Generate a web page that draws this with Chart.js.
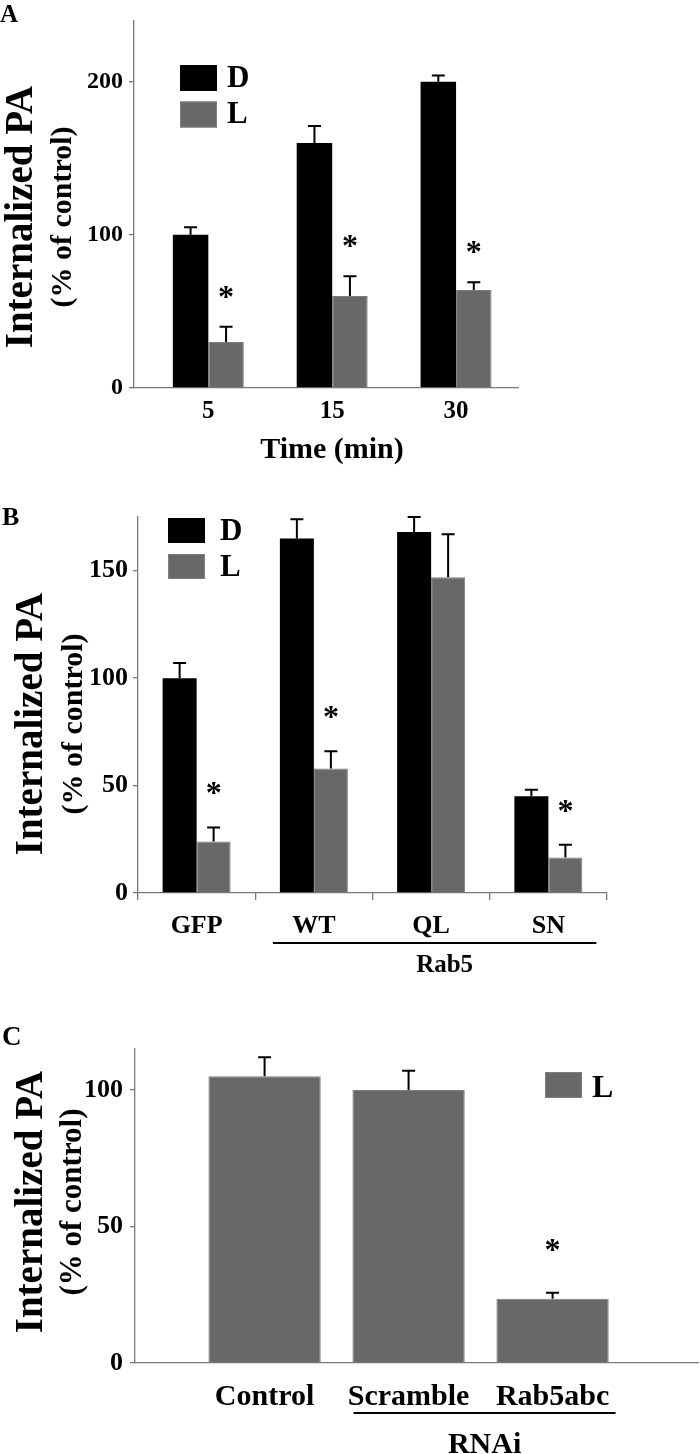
<!DOCTYPE html>
<html>
<head>
<meta charset="utf-8">
<script src="https://cdn.jsdelivr.net/npm/chart.js@4.4.1/dist/chart.umd.min.js"></script>
<style>
  html, body { margin: 0; padding: 0; background: #fff; }
  #wrap { position: relative; width: 700px; height: 1454px; overflow: hidden; }
  canvas { position: absolute; left: 0; }
</style>
</head>
<body>
<div id="wrap">
  <canvas id="chartA" width="700" height="470" style="top:0"></canvas>
  <canvas id="chartB" width="700" height="520" style="top:470px"></canvas>
  <canvas id="chartC" width="700" height="494" style="top:960px"></canvas>
</div>
<script>
// A: time course
var timeLabels = ['5', '15', '30'];
var timeD = [100, 160, 200];
var timeDErr = [5, 11, 4];
var timeL = [30, 60, 64];
var timeLErr = [10, 13, 5];
var timeLStars = [true, true, true];
var timeTicks = [0, 100, 200];

// B: Rab5 mutants
var rabLabels = ['GFP', 'WT', 'QL', 'SN'];
var rabD = [100, 165, 168, 45];
var rabDErr = [7, 9, 7, 3];
var rabL = [24, 58, 147, 16.5];
var rabLErr = [6.5, 8, 20, 6];
var rabLStars = [true, true, false, true];
var rabTicks = [0, 50, 100, 150];

// C: RNAi
var rnaiLabels = ['Control', 'Scramble', 'Rab5abc'];
var rnaiL = [105, 100, 23.5];
var rnaiLErr = [7, 7, 2.2];
var rnaiStars = [false, false, true];
var rnaiTicks = [0, 50, 100];

var FONT = "'Liberation Serif', 'Times New Roman', serif";
var AXIS = '#7a7a7a';
var BLACK = '#000000';
var GRAY = '#686868';

Chart.defaults.animation = false;
Chart.defaults.font.family = FONT;
Chart.defaults.color = '#000';

function pts(values) {
  return values.map(function (v, i) { return { x: i, y: v }; });
}

function bold(size) {
  return 'bold ' + size + 'px ' + FONT;
}

// error bars, stars, legend and the extra labels
var annotate = {
  id: 'annotate',
  afterDatasetsDraw: function (chart, args, opts) {
    var ctx = chart.ctx;
    var ys = chart.scales.y;
    ctx.save();
    chart.data.datasets.forEach(function (ds, i) {
      var meta = chart.getDatasetMeta(i);
      meta.data.forEach(function (bar, j) {
        var v = ds.data[j].y;
        var top = ys.getPixelForValue(v + ds.errors[j]);
        ctx.strokeStyle = '#000';
        ctx.lineWidth = 2;
        ctx.beginPath();
        ctx.moveTo(bar.x, bar.y);
        ctx.lineTo(bar.x, top);
        ctx.moveTo(bar.x - 6.5, top);
        ctx.lineTo(bar.x + 6.5, top);
        ctx.stroke();
        if (ds.stars && ds.stars[j]) {
          ctx.fillStyle = '#000';
          ctx.font = bold(32);
          ctx.textAlign = 'center';
          ctx.textBaseline = 'alphabetic';
          ctx.fillText('*', bar.x, top - opts.starGap + 14);
        }
      });
    });
    ctx.restore();
  },
  afterDraw: function (chart, args, opts) {
    var ctx = chart.ctx;
    ctx.save();
    ctx.fillStyle = '#000';
    ctx.textBaseline = 'alphabetic';

    // panel letter
    ctx.textAlign = 'left';
    ctx.font = bold(opts.letter.size);
    ctx.fillText(opts.letter.text, opts.letter.x, opts.letter.y);

    // y title, two lines
    var t = opts.yTitle;
    ctx.textAlign = 'center';
    ctx.save();
    ctx.translate(t.x1, t.cy);
    ctx.rotate(-Math.PI / 2);
    ctx.font = bold(39);
    ctx.fillText('Internalized PA', 0, 0);
    ctx.restore();
    ctx.save();
    ctx.translate(t.x2, t.cy);
    ctx.rotate(-Math.PI / 2);
    ctx.font = bold(t.size2);
    ctx.fillText('(% of control)', 0, 0);
    ctx.restore();

    // legend
    var lg = opts.legend;
    chart.data.datasets.forEach(function (ds, i) {
      var y = lg.y + i * lg.step;
      ctx.fillStyle = ds.backgroundColor;
      ctx.fillRect(lg.x, y, lg.w, lg.h);
      if (ds.borderWidth) {
        ctx.strokeStyle = ds.borderColor;
        ctx.lineWidth = 1;
        ctx.strokeRect(lg.x + 0.5, y + 0.5, lg.w - 1, lg.h - 1);
      }
      ctx.fillStyle = '#000';
      ctx.textAlign = 'left';
      ctx.font = bold(lg.size);
      ctx.fillText(ds.label, lg.textX, y + lg.textDy);
    });

    // x title
    if (opts.xTitle) {
      ctx.textAlign = 'center';
      ctx.font = bold(30);
      ctx.fillText(opts.xTitle.text, opts.xTitle.x, opts.xTitle.y);
    }

    // group bracket under categories
    if (opts.group) {
      var g = opts.group;
      var xs = chart.scales.x;
      var x1 = xs.getPixelForValue(g.from) + g.dx1;
      var x2 = xs.getPixelForValue(g.to) + g.dx2;
      ctx.strokeStyle = '#000';
      ctx.lineWidth = 2;
      ctx.beginPath();
      ctx.moveTo(x1, g.lineY);
      ctx.lineTo(x2, g.lineY);
      ctx.stroke();
      ctx.textAlign = 'center';
      ctx.font = bold(g.size);
      ctx.fillText(g.text, (x1 + x2) / 2 + g.dxText, g.textY);
    }
    ctx.restore();
  }
};

function yAxis(max, ticks, width, size, pad) {
  return {
    min: 0,
    max: max,
    afterFit: function (s) { s.width = width; },
    afterBuildTicks: function (s) { s.ticks = ticks.map(function (v) { return { value: v }; }); },
    border: { color: AXIS, width: 1.3 },
    grid: { drawOnChartArea: false, tickLength: 5, color: AXIS, lineWidth: 1.3 },
    ticks: { padding: pad, font: { size: size, weight: 'bold' } }
  };
}

function indexAxis(labels, min, max, height, size, pad) {
  return {
    type: 'linear',
    min: min,
    max: max,
    offset: false,
    afterFit: function (s) { s.height = height; },
    afterBuildTicks: function (s) { s.ticks = labels.map(function (l, i) { return { value: i }; }); },
    border: { color: AXIS, width: 1.3 },
    grid: { display: false, drawTicks: false },
    ticks: {
      padding: pad, autoSkip: false, maxRotation: 0,
      font: { size: size, weight: 'bold' },
      callback: function (v) { return labels[v]; }
    }
  };
}

// A
new Chart(document.getElementById('chartA'), {
  type: 'bar',
  data: {
    datasets: [
      { label: 'D', data: pts(timeD), errors: timeDErr, backgroundColor: BLACK, borderWidth: 0,
        categoryPercentage: 0.573, barPercentage: 1 },
      { label: 'L', data: pts(timeL), errors: timeLErr, stars: timeLStars, backgroundColor: GRAY,
        borderColor: '#7e7e7e', borderWidth: 1, categoryPercentage: 0.573, barPercentage: 1 }
    ]
  },
  options: {
    responsive: false,
    layout: { padding: { left: 0, top: 6, right: 700 - 518, bottom: 0 } },
    plugins: {
      legend: { display: false },
      tooltip: { enabled: false },
      annotate: {
        starGap: 34,
        letter: { text: 'A', x: 0, y: 22, size: 25 },
        yTitle: { x1: 32, x2: 71, cy: 217, size2: 30 },
        legend: { x: 180, y: 65, w: 37, h: 26, step: 36.5, textX: 227, textDy: 21.5, size: 31 },
        xTitle: { text: 'Time (min)', x: 332, y: 458 }
      }
    },
    scales: {
      x: indexAxis(timeLabels, -0.6, 2.5, 470 - 388, 25, 9),
      y: yAxis(240, timeTicks, 134, 24, 6)
    }
  },
  plugins: [annotate]
});

// B
new Chart(document.getElementById('chartB'), {
  type: 'bar',
  data: {
    labels: rabLabels,
    datasets: [
      { label: 'D', data: pts(rabD), errors: rabDErr, backgroundColor: BLACK, borderWidth: 0,
        categoryPercentage: 0.58, barPercentage: 1 },
      { label: 'L', data: pts(rabL), errors: rabLErr, stars: rabLStars, backgroundColor: GRAY,
        borderColor: '#7e7e7e', borderWidth: 1, categoryPercentage: 0.58, barPercentage: 1 }
    ]
  },
  options: {
    responsive: false,
    layout: { padding: { left: 0, top: 47, right: 700 - 607, bottom: 0 } },
    plugins: {
      legend: { display: false },
      tooltip: { enabled: false },
      annotate: {
        starGap: 38,
        letter: { text: 'B', x: 2, y: 55, size: 26 },
        yTitle: { x1: 42, x2: 82, cy: 254, size2: 30 },
        legend: { x: 168, y: 48, w: 37, h: 25, step: 36, textX: 220, textDy: 22, size: 31 },
        group: { text: 'Rab5', from: 1, to: 3, dx1: -41, dx2: 48, dxText: 10, lineY: 473, textY: 502, size: 25 }
      }
    },
    scales: {
      x: {
        type: 'category',
        offset: true,
        afterFit: function (s) { s.height = 520 - 423; },
        border: { color: AXIS, width: 1.3 },
        grid: { offset: true, drawOnChartArea: false, tickLength: 7, color: AXIS, lineWidth: 1.3 },
        ticks: { padding: 11, maxRotation: 0, font: { size: 26, weight: 'bold' } }
      },
      y: yAxis(175, rabTicks, 138, 26, 5)
    }
  },
  plugins: [annotate]
});

// C
new Chart(document.getElementById('chartC'), {
  type: 'bar',
  data: {
    datasets: [
      { label: 'L', data: pts(rnaiL), errors: rnaiLErr, stars: rnaiStars, backgroundColor: GRAY,
        borderColor: '#7e7e7e', borderWidth: 1, categoryPercentage: 0.78, barPercentage: 1 }
    ]
  },
  options: {
    responsive: false,
    layout: { padding: { left: 0, top: 89, right: 2, bottom: 0 } },
    plugins: {
      legend: { display: false },
      tooltip: { enabled: false },
      annotate: {
        starGap: 47,
        letter: { text: 'C', x: 2, y: 85, size: 27 },
        yTitle: { x1: 42, x2: 81, cy: 242, size2: 31 },
        legend: { x: 545, y: 112, w: 37, h: 26, step: 36, textX: 592, textDy: 25, size: 32 },
        group: { text: 'RNAi', from: 1, to: 2, dx1: -55, dx2: 63, dxText: 0, lineY: 453, textY: 493, size: 30 }
      }
    },
    scales: {
      x: indexAxis(rnaiLabels, -0.9, 3.01, 494 - 403, 30, 16),
      y: yAxis(115, rnaiTicks, 135, 26, 7)
    }
  },
  plugins: [annotate]
});
</script>
</body>
</html>
